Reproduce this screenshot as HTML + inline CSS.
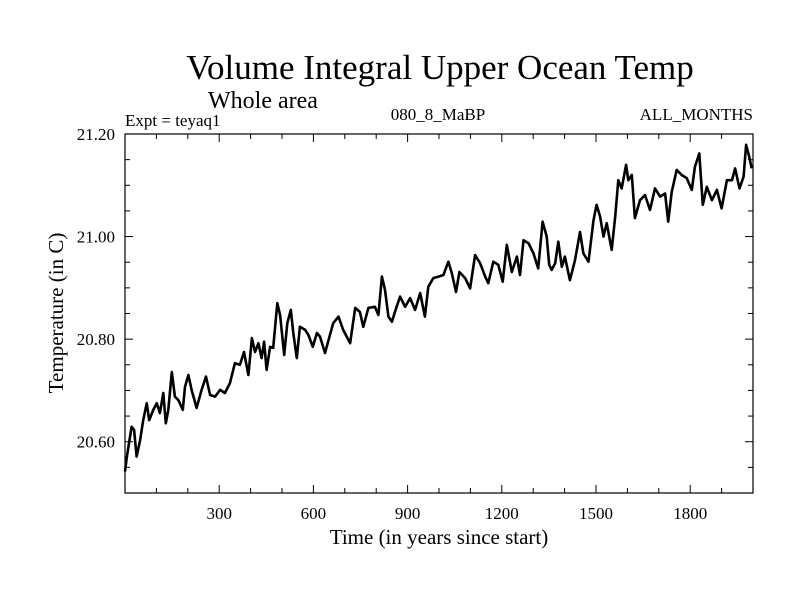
<!DOCTYPE html>
<html><head><meta charset="utf-8"><style>
html,body{margin:0;padding:0;background:#fff;}
svg{display:block;font-family:"Liberation Serif",serif;}
</style></head><body>
<svg id="chart" width="800" height="600" viewBox="0 0 800 600" xmlns="http://www.w3.org/2000/svg">
<rect width="800" height="600" fill="#fff"/>
<text x="440" y="79" font-size="35" text-anchor="middle">Volume Integral Upper Ocean Temp</text>
<text x="208" y="108" font-size="24">Whole area</text>
<text x="125" y="126" font-size="17">Expt = teyaq1</text>
<text x="438" y="120" font-size="17" text-anchor="middle">080_8_MaBP</text>
<text x="753" y="120" font-size="17" text-anchor="end">ALL_MONTHS</text>
<text x="439" y="544" font-size="21" text-anchor="middle">Time (in years since start)</text>
<text transform="translate(63,313) rotate(-90)" font-size="21" text-anchor="middle">Temperature (in C)</text>
<g id="axes"></g>
<g id="series"></g>
</svg>
<script>
const years = [0,6,21,29,37,48,58,69,77,90,101,111,122,130,138,149,159,170,184,191,202,212,228,244,258,271,287,303,318,334,350,366,379,393,404,414,425,435,443,451,462,472,485,494,507,517,528,536,547,557,574,584,598,611,621,637,648,663,680,695,717,733,748,759,775,796,807,818,828,839,850,865,876,892,908,924,940,955,966,982,998,1014,1030,1041,1054,1065,1083,1099,1115,1131,1147,1157,1173,1189,1203,1216,1232,1248,1258,1269,1285,1301,1316,1330,1343,1351,1359,1370,1380,1391,1401,1417,1433,1449,1460,1476,1492,1502,1513,1524,1534,1550,1561,1571,1582,1596,1603,1614,1624,1640,1656,1672,1688,1704,1720,1730,1741,1757,1773,1789,1805,1815,1829,1840,1853,1869,1885,1900,1917,1933,1943,1957,1970,1978,1988,1996];
const temps = [20.542,20.571,20.629,20.623,20.571,20.603,20.642,20.675,20.642,20.662,20.675,20.656,20.695,20.636,20.662,20.736,20.688,20.681,20.662,20.707,20.730,20.701,20.666,20.701,20.727,20.691,20.688,20.701,20.695,20.714,20.753,20.750,20.775,20.730,20.802,20.775,20.792,20.763,20.795,20.740,20.785,20.783,20.870,20.847,20.769,20.831,20.857,20.812,20.763,20.824,20.818,20.808,20.785,20.812,20.805,20.773,20.798,20.831,20.844,20.818,20.792,20.861,20.853,20.824,20.861,20.863,20.847,20.922,20.896,20.844,20.834,20.863,20.883,20.863,20.880,20.857,20.890,20.844,20.902,20.919,20.922,20.925,20.951,20.928,20.892,20.931,20.919,20.899,20.964,20.948,20.922,20.909,20.951,20.945,20.912,20.984,20.931,20.961,20.925,20.993,20.987,20.967,20.938,21.029,21.000,20.945,20.935,20.948,20.990,20.941,20.961,20.915,20.954,21.009,20.967,20.951,21.032,21.062,21.039,21.000,21.026,20.974,21.039,21.110,21.094,21.140,21.110,21.120,21.036,21.071,21.081,21.052,21.094,21.078,21.084,21.029,21.087,21.130,21.120,21.114,21.091,21.136,21.162,21.062,21.097,21.071,21.091,21.055,21.110,21.110,21.133,21.094,21.117,21.179,21.156,21.133];
const xTickLabels = [300,600,900,1200,1500,1800];
const yTickLabels = ["20.60","20.80","21.00","21.20"];

const L=125,R=753,T=134,B=493, X0=0,X1=2000, Y0=20.5,Y1=21.2;
const sx=v=>L+(v-X0)/(X1-X0)*(R-L);
const sy=v=>B-(v-Y0)/(Y1-Y0)*(B-T);
const NS="http://www.w3.org/2000/svg";
const axes=document.getElementById('axes');
function mk(tag,attrs,parent){const e=document.createElementNS(NS,tag);for(const k in attrs)e.setAttribute(k,attrs[k]);parent.appendChild(e);return e;}

const frame=mk('rect',{x:L,y:T,width:R-L,height:B-T,fill:'none',stroke:'#000','stroke-width':1.2},axes);



for(let v=100;v<X1;v+=100){
  const major=v%300===0, len=major?8:5, x=sx(v);
  const t1=mk('line',{x1:x,y1:B,x2:x,y2:B-len,stroke:'#000','stroke-width':1},axes);
  
  
  const t2=mk('line',{x1:x,y1:T,x2:x,y2:T+len,stroke:'#000','stroke-width':1},axes);
  
  
}
xTickLabels.forEach(v=>{
  const t=mk('text',{x:sx(v),y:B+26,'font-size':17,'text-anchor':'middle'},axes);
  t.textContent=v;
  
  
});
for(let i=1;i<=14;i++){
  const v=Y0+i*0.05, major=(i%4===2), len=major?8:5, y=sy(v);
  const t1=mk('line',{x1:L,y1:y,x2:L+len,y2:y,stroke:'#000','stroke-width':1},axes);
  
  
  const t2=mk('line',{x1:R,y1:y,x2:R-len,y2:y,stroke:'#000','stroke-width':1},axes);
  
  
}
yTickLabels.forEach(s=>{
  const t=mk('text',{x:L-10,y:sy(parseFloat(s))+6,'font-size':17,'text-anchor':'end'},axes);
  t.textContent=s;
  
  
});
const d=years.map((yr,i)=>(i?'L':'M')+sx(yr).toFixed(1)+','+sy(temps[i]).toFixed(1)).join(' ');
const line=mk('path',{d:d,fill:'none',stroke:'#000','stroke-width':2.6,'stroke-linejoin':'round'},document.getElementById('series'));


</script>
</body></html>
